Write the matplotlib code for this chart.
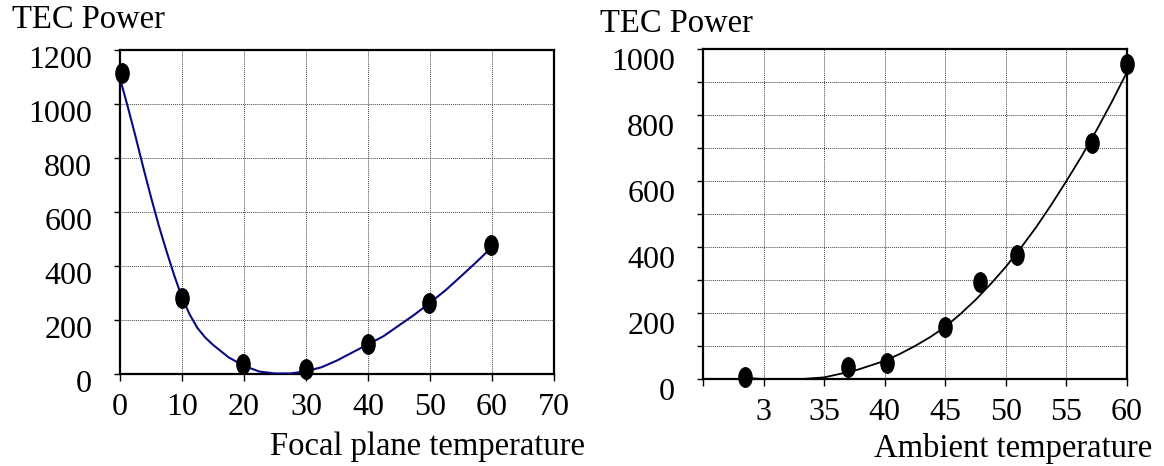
import matplotlib
matplotlib.use("Agg")
import matplotlib.pyplot as plt
from matplotlib.path import Path
from matplotlib.transforms import Affine2D, ScaledTranslation

plt.rcParams["font.family"] = ["Liberation Serif", "DejaVu Serif"]

# left chart: TEC power vs focal plane temperature
focal_x = [0.3, 10, 19.8, 30, 40, 49.9, 59.9]
focal_y = [1115, 282, 37, 17, 111, 264, 477]
focal_curve_x = [0, 1.25, 2.5, 3.75, 5, 6.25, 7.5, 8.75, 10, 11.25, 12.5, 13.75,
                 15, 17.5, 20, 22.5, 25, 27.5, 30, 32.5, 35, 37.5, 40, 42.5,
                 45, 47.5, 50, 52.5, 55, 57.5, 60]
focal_curve_y = [1095, 990, 880, 765, 655, 550, 455, 365, 283, 220, 170, 135,
                 108, 62, 30, 9, 2, 2, 10, 25, 50, 80, 110, 140,
                 180, 220, 264, 310, 362, 415, 470]
focal_xticks = [0, 10, 20, 30, 40, 50, 60, 70]
focal_yticks = [0, 200, 400, 600, 800, 1000, 1200]

# right chart: TEC power vs ambient temperature
amb_x = [28.5, 36.95, 40.2, 44.96, 47.87, 50.9, 57.1, 60]
amb_y = [5, 35, 47, 157, 295, 375, 715, 956]
amb_curve_x = [28.5, 30, 32.5, 35, 37.5, 40, 41.25, 42.5, 43.75, 45, 46.25,
               47.5, 48.75, 50, 51.25, 52.5, 53.75, 55, 56.25, 57.5, 58.75, 60]
amb_curve_y = [3, 0, -2, 5, 25, 55, 76, 100, 127, 158, 197,
               240, 288, 340, 398, 460, 528, 600, 675, 755, 840, 930]
amb_xticks = [25, 30, 35, 40, 45, 50, 55, 60]
amb_xlabels = ["", "3", "35", "40", "45", "50", "55", "60"]
amb_yticks = [0, 100, 200, 300, 400, 500, 600, 700, 800, 900, 1000]
amb_ylabels = ["0", "", "200", "", "400", "", "600", "", "800", "", "1000"]

W, H = 1164, 466
fig = plt.figure(figsize=(W / 100, H / 100), dpi=100)

dot = Path.unit_circle().transformed(Affine2D().scale(0.68, 1.0))
FS = 23
TS = 23.5


def setup(ax, dy):
    for s in ax.spines.values():
        s.set_linewidth(1.6)
        s.set_color("black")
    ax.grid(True, color="#444444", linestyle=(0, (1, 1)), linewidth=0.7)
    ax.set_axisbelow(True)
    ax.tick_params(axis="x", direction="out", length=5, width=1, labelsize=FS, pad=9)
    ax.tick_params(axis="y", direction="out", length=4, width=1, labelsize=FS, pad=16)
    off = ScaledTranslation(0, -dy / 72, fig.dpi_scale_trans)
    for lab in ax.get_yticklabels():
        lab.set_transform(lab.get_transform() + off)


# left
ax1 = fig.add_axes([120 / W, 1 - 374 / H, 434 / W, 324 / H])
ax1.plot(focal_curve_x, focal_curve_y, color="#0a0a80", linewidth=1.5, zorder=3)
ax1.plot(focal_x, focal_y, linestyle="none", marker=dot, markersize=14,
         color="black", zorder=4, clip_on=False)
ax1.set_xlim(0, 70)
ax1.set_ylim(0, 1200)
ax1.set_xticks(focal_xticks)
ax1.set_yticks(focal_yticks)
setup(ax1, 5)
fig.text(12 / W, 1 - 20 / H, "TEC Power", fontsize=TS, ha="left", va="center")
fig.text(585 / W, 1 - 447 / H, "Focal plane temperature", fontsize=TS,
         ha="right", va="center")

# right
ax2 = fig.add_axes([703 / W, 1 - 379 / H, 424 / W, 330 / H])
ax2.plot(amb_curve_x, amb_curve_y, color="black", linewidth=1.3, zorder=3)
ax2.plot(amb_x, amb_y, linestyle="none", marker=dot, markersize=14,
         color="black", zorder=4, clip_on=False)
ax2.set_xlim(25, 60)
ax2.set_ylim(0, 1000)
ax2.set_xticks(amb_xticks)
ax2.set_xticklabels(amb_xlabels)
ax2.set_yticks(amb_yticks)
ax2.set_yticklabels(amb_ylabels)
setup(ax2, 7)
fig.text(600 / W, 1 - 24 / H, "TEC Power", fontsize=TS, ha="left", va="center")
fig.text(1152 / W, 1 - 449 / H, "Ambient temperature", fontsize=TS,
         ha="right", va="center")

fig.savefig("out.png", dpi=100)
